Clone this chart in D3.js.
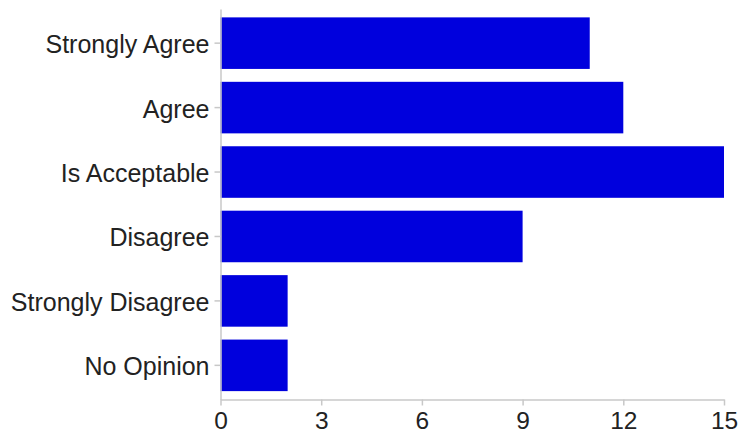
<!DOCTYPE html>
<html>
<head>
<meta charset="utf-8">
<script src="https://cdn.jsdelivr.net/npm/d3@7"></script>
<style>
html, body { margin: 0; padding: 0; background: #fff; }
svg { display: block; }
</style>
</head>
<body>
<svg id="chart" width="740" height="435"></svg>
<script>
const categories = ["Strongly Agree", "Agree", "Is Acceptable", "Disagree", "Strongly Disagree", "No Opinion"];
const values = [11, 12, 15, 9, 2, 2];
const xTicks = [0, 3, 6, 9, 12, 15];

const svg = d3.select("#chart");
const mLeft = 220.5, mRight = 724, mTop = 9, mBottom = 399.5;

const x = d3.scaleLinear().domain([0, 15]).range([mLeft, mRight]);
const y = d3.scaleBand().domain(categories).range([mTop, mBottom]).paddingInner(0.2).paddingOuter(0.13);

svg.append("g").selectAll("rect")
  .data(categories)
  .join("rect")
  .attr("x", x(0))
  .attr("y", d => y(d))
  .attr("width", (d, i) => x(values[i]) - x(0))
  .attr("height", y.bandwidth())
  .attr("fill", "#0000dd");

const fontFam = "'Liberation Sans', Arial, Helvetica, sans-serif";

const yAxis = svg.append("g")
  .attr("transform", `translate(${mLeft},0)`)
  .call(d3.axisLeft(y).tickSize(6).tickSizeOuter(0).tickPadding(5));
yAxis.select(".domain").attr("stroke", "#c8c8c8").attr("stroke-width", 1.5);
yAxis.selectAll(".tick line").attr("stroke", "#c8c8c8").attr("stroke-width", 1.5);
yAxis.selectAll(".tick text")
  .attr("fill", "#222")
  .attr("dy", "0.4em")
  .style("font-family", fontFam)
  .style("font-size", "25px");

const xAxis = svg.append("g")
  .attr("transform", `translate(0,${mBottom})`)
  .call(d3.axisBottom(x).tickValues(xTicks).tickSize(6).tickSizeOuter(0).tickPadding(6).tickFormat(d3.format("d")));
xAxis.select(".domain").attr("stroke", "#c8c8c8").attr("stroke-width", 1.5);
xAxis.selectAll(".tick line").attr("stroke", "#c8c8c8").attr("stroke-width", 1.5);
xAxis.selectAll(".tick text")
  .attr("fill", "#222")
  .style("font-family", fontFam)
  .style("font-size", "24.5px");
</script>
</body>
</html>
